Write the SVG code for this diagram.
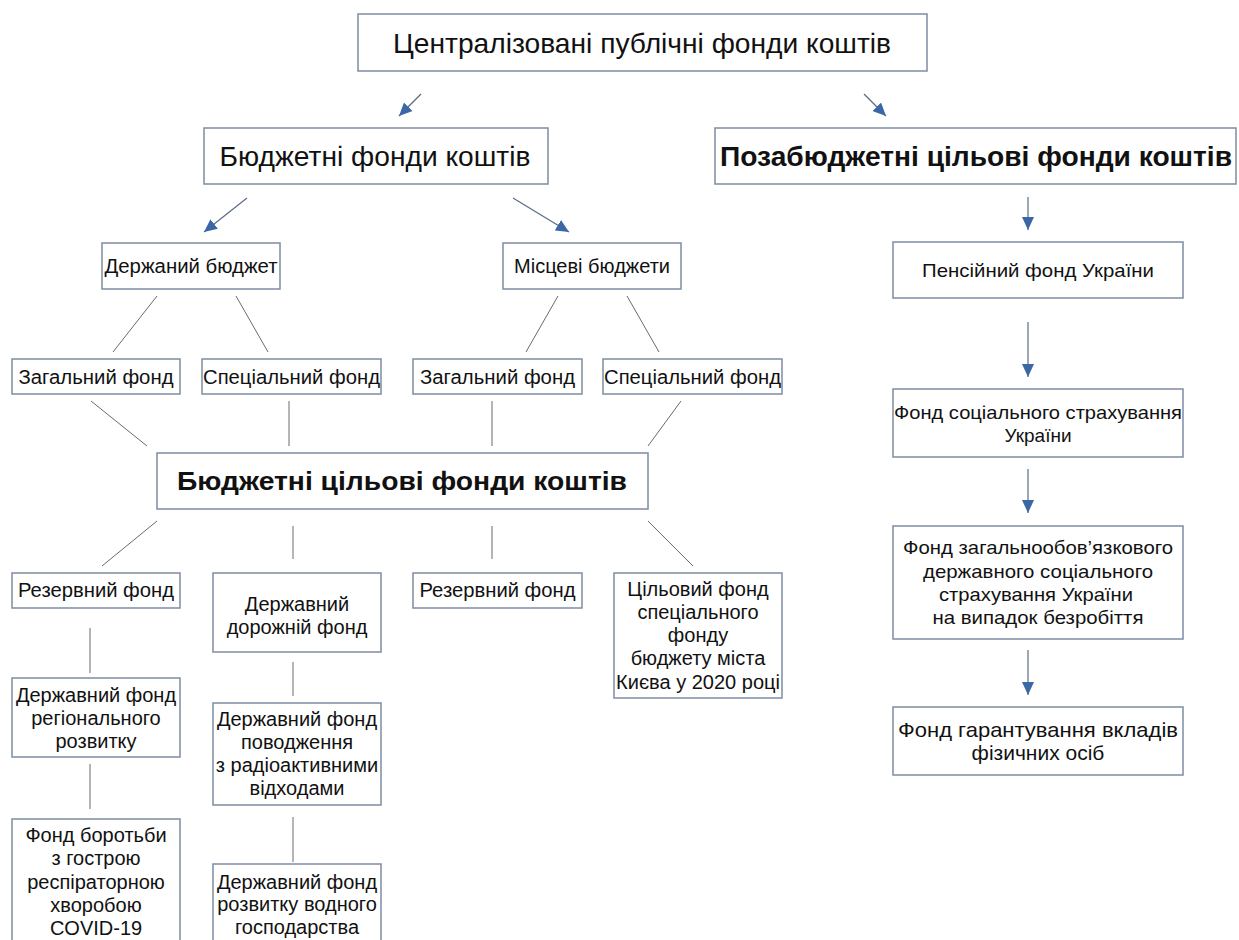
<svg xmlns="http://www.w3.org/2000/svg" width="1239" height="940" viewBox="0 0 1239 940">
<style>
.bx{fill:#ffffff;stroke:#7d8da3;stroke-width:1.5}
.t{font-family:"Liberation Sans",Arial,sans-serif;fill:#111111;text-anchor:middle}
.f20{font-size:20px}
.f19{font-size:19px}
.f21{font-size:21px}
.big{font-size:28px}
.b{font-weight:bold}
.ln{stroke:#6a6a6a;stroke-width:1;fill:none}
.ar{stroke:#5a6c84;stroke-width:1.2;fill:none;marker-end:url(#ah)}
</style>
<defs>
<marker id="ah" markerUnits="userSpaceOnUse" markerWidth="14" markerHeight="12" refX="13" refY="6" orient="auto">
<path d="M0,0 L13,6 L0,12 z" fill="#3b68a5"/>
</marker>
</defs>
<rect width="1239" height="940" fill="#ffffff"/>

<g id="connectors">
<line class="ar" x1="421" y1="94" x2="399" y2="116"/>
<line class="ar" x1="864" y1="94" x2="886" y2="116"/>
<line class="ar" x1="247" y1="198" x2="204" y2="232"/>
<line class="ar" x1="513" y1="198" x2="569" y2="232"/>
<line class="ar" x1="1028" y1="197" x2="1028" y2="230"/>
<line class="ar" x1="1028" y1="322" x2="1028" y2="377"/>
<line class="ar" x1="1028" y1="469" x2="1028" y2="513"/>
<line class="ar" x1="1028" y1="650" x2="1028" y2="695"/>
<line class="ln" x1="157" y1="296" x2="113" y2="352"/>
<line class="ln" x1="236" y1="296" x2="268" y2="352"/>
<line class="ln" x1="558" y1="296" x2="526" y2="352"/>
<line class="ln" x1="627" y1="296" x2="659" y2="352"/>
<line class="ln" x1="91" y1="401" x2="147" y2="446"/>
<line class="ln" x1="289" y1="401" x2="289" y2="446"/>
<line class="ln" x1="492" y1="401" x2="492" y2="446"/>
<line class="ln" x1="681" y1="401" x2="648" y2="446"/>
<line class="ln" x1="157" y1="521" x2="102" y2="566"/>
<line class="ln" x1="293" y1="526" x2="293" y2="559"/>
<line class="ln" x1="492" y1="526" x2="492" y2="559"/>
<line class="ln" x1="648" y1="521" x2="693" y2="566"/>
<line class="ln" x1="90" y1="628" x2="90" y2="673"/>
<line class="ln" x1="90" y1="764" x2="90" y2="809"/>
<line class="ln" x1="293" y1="662" x2="293" y2="696"/>
<line class="ln" x1="293" y1="817" x2="293" y2="862"/>
</g>

<g id="n-central">
<rect class="bx" x="358" y="14" width="569" height="57"/>
<text class="t big" x="642" y="53" textLength="498" lengthAdjust="spacingAndGlyphs">Централізовані публічні фонди коштів</text>
</g>

<g id="n-budget">
<rect class="bx" x="204" y="128" width="344" height="56"/>
<text class="t big" x="375" y="166" textLength="311" lengthAdjust="spacingAndGlyphs">Бюджетні фонди коштів</text>
</g>

<g id="n-offbudget">
<rect class="bx" x="715" y="128" width="521" height="56"/>
<text class="t big b" x="976" y="166" textLength="512" lengthAdjust="spacingAndGlyphs">Позабюджетні цільові фонди коштів</text>
</g>

<g id="n-state">
<rect class="bx" x="102" y="243" width="178" height="46"/>
<text class="t f20" x="191" y="273" textLength="173" lengthAdjust="spacingAndGlyphs">Держаний бюджет</text>
</g>

<g id="n-local">
<rect class="bx" x="503" y="243" width="178" height="46"/>
<text class="t f20" x="592" y="273">Місцеві бюджети</text>
</g>

<g id="n-pension">
<rect class="bx" x="893" y="242" width="290" height="56"/>
<text class="t f19" x="1038" y="277" textLength="232" lengthAdjust="spacingAndGlyphs">Пенсійний фонд України</text>
</g>

<g id="n-gen1">
<rect class="bx" x="12" y="359" width="168" height="35"/>
<text class="t f20" x="96" y="384" textLength="155" lengthAdjust="spacingAndGlyphs">Загальний фонд</text>
</g>

<g id="n-spec1">
<rect class="bx" x="202" y="359" width="179" height="35"/>
<text class="t f20" x="291.5" y="384" textLength="177" lengthAdjust="spacingAndGlyphs">Спеціальний фонд</text>
</g>

<g id="n-gen2">
<rect class="bx" x="413" y="359" width="169" height="35"/>
<text class="t f20" x="497.5" y="384" textLength="155" lengthAdjust="spacingAndGlyphs">Загальний фонд</text>
</g>

<g id="n-spec2">
<rect class="bx" x="603" y="359" width="179" height="35"/>
<text class="t f20" x="692.5" y="384" textLength="177" lengthAdjust="spacingAndGlyphs">Спеціальний фонд</text>
</g>

<g id="n-target">
<rect class="bx" x="157" y="453" width="491" height="56"/>
<text class="t b" style="font-size:26px" x="402" y="490" textLength="450" lengthAdjust="spacingAndGlyphs">Бюджетні цільові фонди коштів</text>
</g>

<g id="n-reserve1">
<rect class="bx" x="12" y="573" width="168" height="35"/>
<text class="t f20" x="96" y="597" textLength="156" lengthAdjust="spacingAndGlyphs">Резервний фонд</text>
</g>

<g id="n-road">
<rect class="bx" x="213" y="573" width="168" height="79"/>
<text class="t f20" x="297" y="611">Державний</text>
<text class="t f20" x="297" y="634">дорожній фонд</text>
</g>

<g id="n-reserve2">
<rect class="bx" x="413" y="573" width="169" height="35"/>
<text class="t f20" x="497.5" y="597" textLength="156" lengthAdjust="spacingAndGlyphs">Резервний фонд</text>
</g>

<g id="n-kyiv">
<rect class="bx" x="614" y="573" width="168" height="125"/>
<text class="t f20" x="698" y="596">Цільовий фонд</text>
<text class="t f20" x="698" y="619">спеціального</text>
<text class="t f20" x="698" y="642">фонду</text>
<text class="t f20" x="698" y="665">бюджету міста</text>
<text class="t f20" x="698" y="689">Києва у 2020 році</text>
</g>

<g id="n-regional">
<rect class="bx" x="12" y="678" width="168" height="79"/>
<text class="t f20" x="96" y="702">Державний фонд</text>
<text class="t f20" x="96" y="725">регіонального</text>
<text class="t f20" x="96" y="748">розвитку</text>
</g>

<g id="n-covid">
<rect class="bx" x="12" y="819" width="168" height="130"/>
<text class="t f20" x="96" y="842">Фонд боротьби</text>
<text class="t f20" x="96" y="865">з гострою</text>
<text class="t f20" x="96" y="889">респіраторною</text>
<text class="t f20" x="96" y="912">хворобою</text>
<text class="t f20" x="96" y="935">COVID-19</text>
</g>

<g id="n-radio">
<rect class="bx" x="213" y="703" width="168" height="102"/>
<text class="t f20" x="297" y="726">Державний фонд</text>
<text class="t f20" x="297" y="749">поводження</text>
<text class="t f20" x="297" y="772">з радіоактивними</text>
<text class="t f20" x="297" y="795">відходами</text>
</g>

<g id="n-water">
<rect class="bx" x="213" y="864" width="168" height="85"/>
<text class="t f20" x="297" y="889">Державний фонд</text>
<text class="t f20" x="297" y="911">розвитку водного</text>
<text class="t f20" x="297" y="934">господарства</text>
</g>

<g id="n-social">
<rect class="bx" x="893" y="389" width="290" height="68"/>
<text class="t f19" x="1038" y="419" textLength="288" lengthAdjust="spacingAndGlyphs">Фонд соціального страхування</text>
<text class="t f19" x="1038" y="442">України</text>
</g>

<g id="n-unemploy">
<rect class="bx" x="893" y="526" width="290" height="113"/>
<text class="t f19" x="1038" y="554" textLength="270" lengthAdjust="spacingAndGlyphs">Фонд загальнообов’язкового</text>
<text class="t f19" x="1038" y="578" textLength="230" lengthAdjust="spacingAndGlyphs">державного соціального</text>
<text class="t f19" x="1036" y="601" textLength="194" lengthAdjust="spacingAndGlyphs">страхування України</text>
<text class="t f19" x="1038" y="624" textLength="211" lengthAdjust="spacingAndGlyphs">на випадок безробіття</text>
</g>

<g id="n-deposit">
<rect class="bx" x="893" y="707" width="290" height="68"/>
<text class="t f21" x="1038" y="737" textLength="280" lengthAdjust="spacingAndGlyphs">Фонд гарантування вкладів</text>
<text class="t f21" x="1038" y="760">фізичних осіб</text>
</g>
</svg>
